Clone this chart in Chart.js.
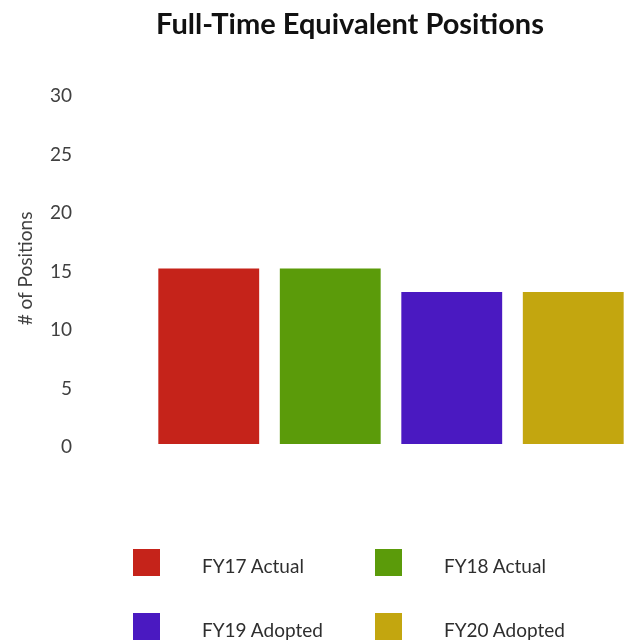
<!DOCTYPE html>
<html>
<head>
<meta charset="utf-8">
<script src="https://cdn.jsdelivr.net/npm/chart.js@4/dist/chart.umd.min.js"></script>
<style>
  html, body { margin: 0; padding: 0; background: #fff; overflow: hidden; }
  #wrap { position: relative; width: 628px; height: 644px; overflow: hidden; }
  #chart { position: absolute; left: 0; top: 0; }
  #title {
    position: absolute; left: 0; top: 7px; width: 700px; text-align: center;
    font: bold 29px Lato, "Open Sans", sans-serif; line-height: 32px; color: #111;
  }
  #legend {
    position: absolute; left: 133px; top: 549px;
    display: grid; grid-template-columns: 242px 242px; grid-auto-rows: 64px;
  }
  .item { display: flex; align-items: center; height: 27px; }
  .box { width: 27px; height: 27px; margin-right: 42px; flex: none; }
  .txt { font: 19px Lato, "Open Sans", sans-serif; color: #2e2e2e; padding-top: 6px; }
</style>
</head>
<body>
<div id="wrap">
  <canvas id="chart" width="634" height="644"></canvas>
  <div id="title">Full-Time Equivalent Positions</div>
  <div id="legend"></div>
</div>
<script>
// Fiscal-year series and their FTE counts
const seriesNames = ['FY17 Actual', 'FY18 Actual', 'FY19 Adopted', 'FY20 Adopted'];
const positions = [15, 15, 13, 13];
const seriesColors = ['#c5231a', '#5b9b0a', '#4a19c1', '#c3a60f'];
const yTicks = [0, 5, 10, 15, 20, 25, 30];

const datasets = seriesNames.map((name, i) => ({
  label: name,
  data: [positions[i]],
  backgroundColor: seriesColors[i],
  borderWidth: 0,
  categoryPercentage: 1,
  barPercentage: 0.83
}));

const chart = new Chart(document.getElementById('chart'), {
  type: 'bar',
  data: { labels: [''], datasets },
  options: {
    responsive: false,
    animation: false,
    layout: { padding: { top: 93, bottom: 200, left: 0, right: 0 } },
    plugins: { legend: { display: false }, title: { display: false }, tooltip: { enabled: false } },
    scales: {
      x: { display: false },
      y: {
        min: yTicks[0],
        max: yTicks[yTicks.length - 1],
        afterBuildTicks: (s) => { s.ticks = yTicks.map(v => ({ value: v })); },
        afterFit: (s) => { s.width = 148; },
        grid: { display: false, drawTicks: false },
        border: { display: false },
        ticks: { padding: 76, labelOffset: 3, color: '#404040', font: { family: 'Lato', size: 19 } },
        title: {
          display: true,
          text: '# of Positions',
          color: '#404040',
          font: { family: 'Lato', size: 19 },
          padding: { top: 14, bottom: 14 }
        }
      }
    }
  }
});

// Legend laid out as a two-column grid from the chart's datasets
const legend = document.getElementById('legend');
chart.data.datasets.forEach(ds => {
  const item = document.createElement('div');
  item.className = 'item';
  const box = document.createElement('span');
  box.className = 'box';
  box.style.background = ds.backgroundColor;
  const txt = document.createElement('span');
  txt.className = 'txt';
  txt.textContent = ds.label;
  item.appendChild(box);
  item.appendChild(txt);
  legend.appendChild(item);
});
</script>
</body>
</html>
